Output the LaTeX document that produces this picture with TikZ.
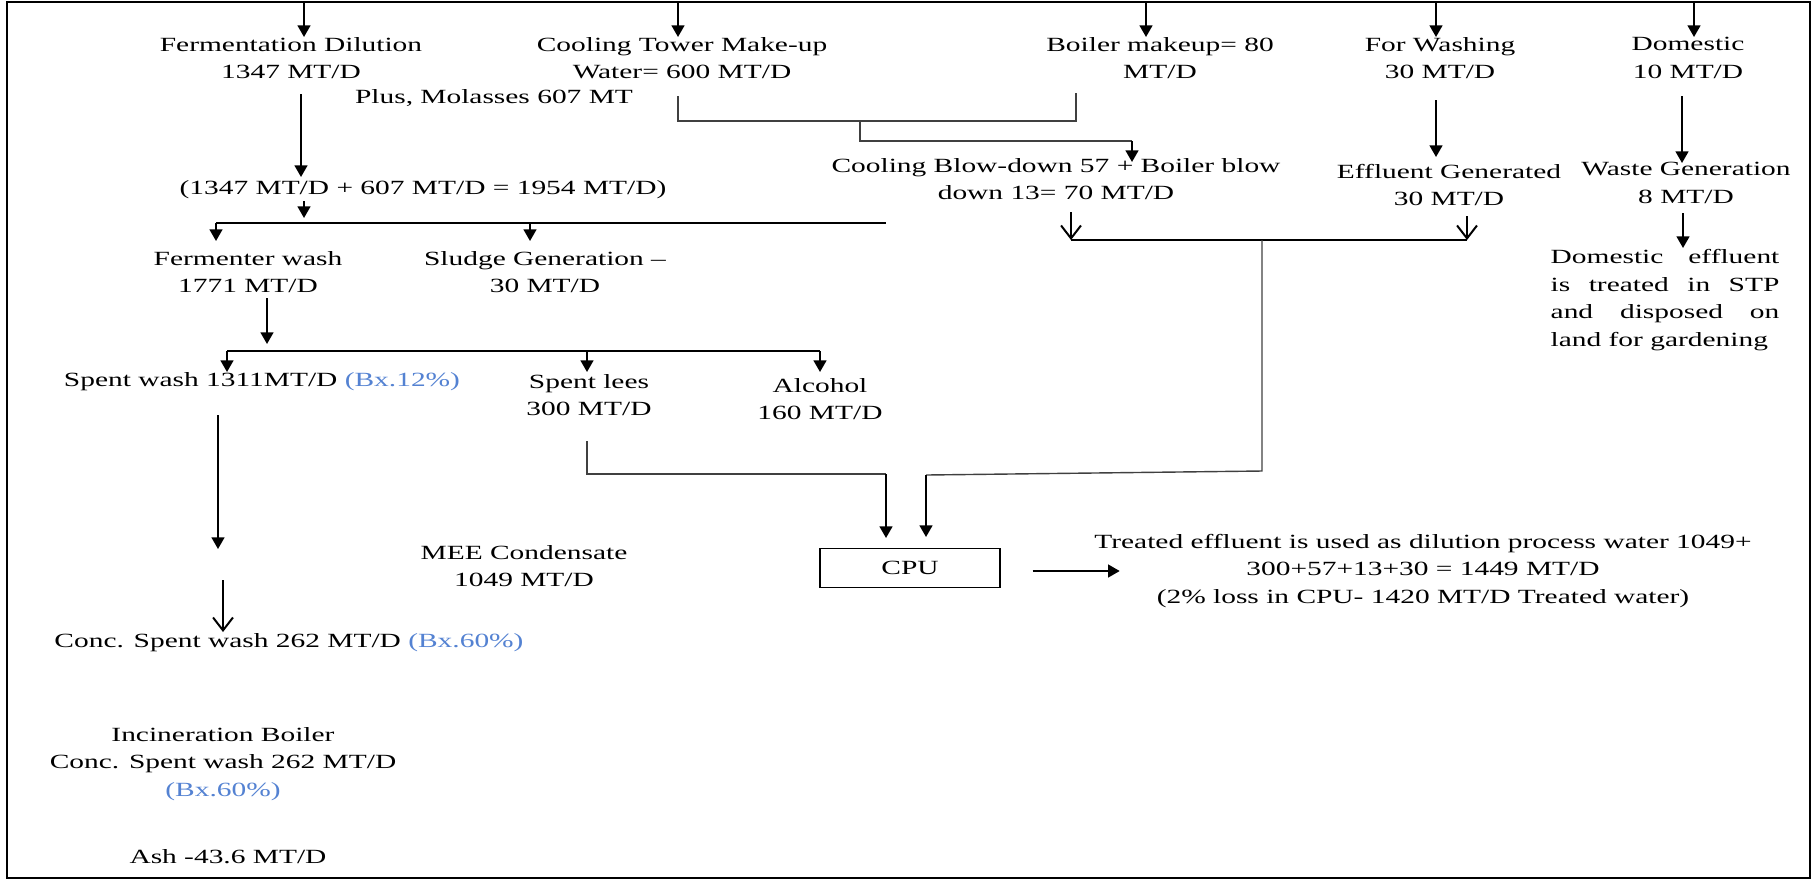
\documentclass[tikz,border=0pt]{standalone}
\usepackage{fontspec}
\setmainfont{Liberation Serif}[FakeStretch=1.46]
\usetikzlibrary{arrows.meta}
\usetikzlibrary{calc}
\newcommand{\jl}[1]{\makebox[3.43cm][s]{#1}}

\begin{document}
\begin{tikzpicture}[x=0.015cm,y=-0.015cm,
  txt/.style={font=\fontsize{8.6}{11.7}\selectfont, align=center, inner sep=0.5pt},
  arr/.style={line width=0.85pt, -{Triangle[width=5.5pt,length=5pt]}},
  barb/.style={line width=0.85pt, -{Straight Barb[width=8.5pt,length=5.5pt]}},
  lin/.style={line width=0.85pt},
  thinln/.style={line width=0.6pt, black!75}]
\definecolor{BxBlue}{RGB}{84,130,210}

\useasboundingbox (0,0) rectangle (1812,880);
\draw[line width=0.9pt] (7,2) rectangle (1810,878);

% water inputs
\node[txt] (fd)   at (291,58)  {Fermentation Dilution\\1347 MT/D};
\node[txt] (ctm)  at (682,58)  {Cooling Tower Make-up\\Water= 600 MT/D};
\node[txt] (mol)  at (494,98)  {Plus, Molasses 607 MT};
\node[txt] (bmk)  at (1160,58) {Boiler makeup= 80\\MT/D};
\node[txt] (wash) at (1440,58) {For Washing\\30 MT/D};
\node[txt] (dom)  at (1688,58) {Domestic\\10 MT/D};

\foreach \x/\n in {304/tA,678/tB,1146/tC,1436/tD,1694/tE}
  \coordinate (\n) at (\x,2);
\foreach \n in {tA,tB,tC,tD,tE}
  \draw[arr] (\n) -- ++(0,35);

% blow-down, effluent, waste
\node[txt] (cbd)  at (1056,179) {Cooling Blow-down 57 + Boiler blow\\down 13= 70 MT/D};
\node[txt] (effg) at (1449,185) {Effluent Generated\\30 MT/D};
\node[txt] (wgen) at (1686,183) {Waste Generation\\8 MT/D};
\node[txt, align=left] (deff) at (1665,300)
  {\jl{Domestic effluent}\\\jl{is treated in STP}\\\jl{and disposed on}\\land for gardening};

\coordinate (ctb) at (678,96);
\coordinate (bmb) at (1076,93);
\coordinate (bdn) at (860,121);
\coordinate (bdr) at (1132,141);
\draw[thinln] (ctb) -- (ctb |- bdn) -- (bmb |- bdn) -- (bmb);
\draw[thinln] (bdn) -- (bdn |- bdr) -- (bdr);
\draw[arr] (bdr) -- ++(0,21);

\coordinate (wa) at (1436,100);
\coordinate (da) at (1682,96);
\coordinate (wd) at (1683,213);
\draw[arr] (wa) -- ++(0,57);
\draw[arr] (da) -- ++(0,67);
\draw[arr] (wd) -- ++(0,35);

% effluent collection to CPU
\coordinate (eL) at (1071,240);
\coordinate (eR) at (1467,240);
\coordinate (eM) at (1262,240);
\draw[barb] (eL |- 0,212) -- (eL);
\draw[barb] (eR |- 0,216) -- (eR);
\draw[lin] (eL) -- (eR);
\draw[thinln] (eM) -- (1262,471) -- (926,475);
\draw[arr] (926,475) -- (926,537);

% fermentation line
\node[txt] (summ) at (423,190) {(1347 MT/D + 607 MT/D = 1954 MT/D)};
\node[txt] (fwash) at (248,272) {Fermenter wash\\1771 MT/D};
\node[txt] (sludge) at (545,272) {Sludge Generation –\\30 MT/D};

\coordinate (fdo) at (301,94);
\draw[arr] (fdo) -- ++(0,83);
\coordinate (smo) at (304,201);
\draw[arr] (smo) -- ++(0,17);
\coordinate (b1L) at (216,223);
\coordinate (b1M) at (530,223);
\coordinate (b1R) at (886,223);
\draw[lin] (b1L) -- (b1R);
\draw[arr] (b1L) -- ++(0,18);
\draw[arr] (b1M) -- ++(0,18);

\coordinate (fwo) at (267,298);
\draw[arr] (fwo) -- ++(0,46);
\coordinate (b2L) at (227,351);
\coordinate (b2M) at (587,351);
\coordinate (b2R) at (820,351);
\draw[lin] (b2L) -- (b2R);
\foreach \n in {b2L,b2M,b2R}
  \draw[arr] (\n) -- ++(0,21);

\node[txt] (swash) at (262,382) {Spent wash 1311MT/D {\color{BxBlue}(Bx.12\%)}};
\node[txt] (lees) at (589,395) {Spent lees\\300 MT/D};
\node[txt] (alc) at (820,399) {Alcohol\\160 MT/D};

% spent lees to CPU
\coordinate (leo) at (587,441);
\draw[thinln] (leo) -- (587,474) -- (886,474);
\draw[arr] (886,474) -- (886,538);

\node[draw, line width=0.6pt, minimum width=2.7cm, minimum height=0.585cm, txt] (cpu) at (910,568) {CPU};
\node[txt] (treat) at (1423,571)
  {Treated effluent is used as dilution process water 1049+\\300+57+13+30 = 1449 MT/D\\(2\% loss in CPU- 1420 MT/D Treated water)};
\draw[arr] ($(cpu.east)+(32,3)$) -- ++(87,0);

% spent wash to incineration
\node[txt] (mee) at (524,566) {MEE Condensate\\1049 MT/D};
\node[txt] (cswash) at (289,643) {Conc. Spent wash 262 MT/D {\color{BxBlue}(Bx.60\%)}};
\node[txt] (incin) at (223,764) {Incineration Boiler\\Conc. Spent wash 262 MT/D\\{\color{BxBlue}(Bx.60\%)}};
\node[txt] (ash) at (228,857) {Ash -43.6 MT/D};

\coordinate (swo) at (218,415);
\draw[arr] (swo) -- ++(0,134);
\coordinate (mo) at (223,580);
\draw[barb] (mo) -- ++(0,52);

\end{tikzpicture}
\end{document}
